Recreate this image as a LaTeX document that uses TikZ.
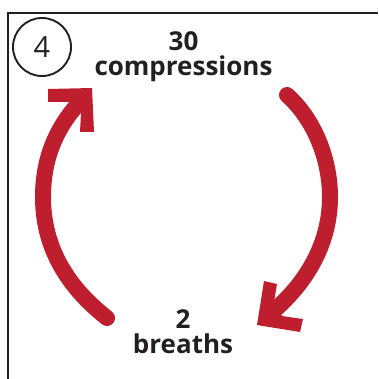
\documentclass[tikz,border=0pt]{standalone}
\usepackage{fontspec}
\setmainfont{Open Sans}
\definecolor{arrowred}{HTML}{BE1E2D}
\definecolor{ink}{HTML}{231F20}
\tikzset{
  frameline/.style={draw=ink,line width=2.2pt},
  shaft/.style={draw=arrowred,line width=16pt,line cap=round},
  headshape/.style={fill=arrowred,draw=none},
  label/.style={text=ink,font=\bfseries\fontsize{26}{26}\selectfont,align=center,inner sep=0pt}
}
\begin{document}
\begin{tikzpicture}[x=1pt,y=-1pt]
\useasboundingbox (0,0) rectangle (378,379);
\draw[frameline] (8,379) -- (8,13) -- (378,13);
\node[circle,draw=ink,line width=1.9pt,minimum size=58pt,inner sep=0pt,text=ink,font=\fontsize{29}{29}\selectfont] (num) at (42,47) {4};
\node[label] (top) at (183.5,56.5) {30\\[-1pt]compressions};
\node[label] (bottom) at (183,332) {2\\[-1pt]breaths};
\draw[shaft] (287,95) .. controls (315,120) and (330,160) .. (330,197) .. controls (330,245) and (305,285) .. (270,314);
\fill[headshape] (264,281) -- (277,284) -- (274,302) -- (282,316) -- (303,319) -- (300,332) -- (257,325) -- cycle;
\draw[shaft] (107,318) .. controls (65,285) and (43,245) .. (43,197) .. controls (43,160) and (55,130) .. (78,104);
\fill[headshape] (48,89) -- (92,88) -- (94,132) -- (80,132) -- (81,113) -- (69,102) -- (48,102) -- cycle;
\end{tikzpicture}
\end{document}
